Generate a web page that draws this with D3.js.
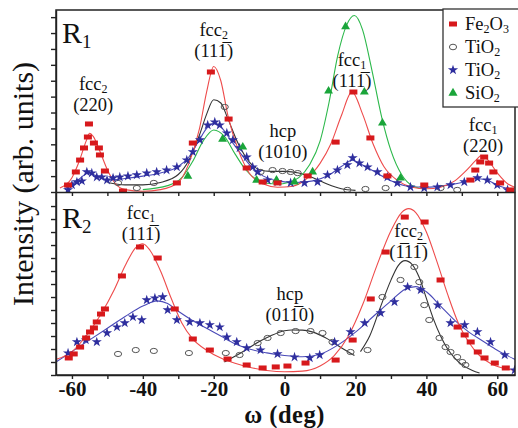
<!DOCTYPE html>
<meta charset="utf-8">
<style>
body { margin: 0; background: #fff; }
text { font-family: "Liberation Serif", "DejaVu Serif", serif; fill: #111; }
.axis path, .axis line { stroke: #222; stroke-width: 1.4px; }
.fit { fill: none; stroke-width: 1.1px; }
</style>
<body>
<script src="https://d3js.org/d3.v7.min.js"></script>
<script>
// omega in degrees, intensity in arbitrary units

// ---- panel R1 ----
var r1Fe2O3 = [[-61.1,0.44],[-58.9,1.26],[-57.7,2.01],[-56.6,2.77],[-55.5,3.46],[-55.2,4.28],[-53.8,3.08],[-52.4,2.77],[-52.1,2.33],[-50.7,1.32],[-45.6,0.06],[-30.4,0.57],[-25.9,3.08],[-20.8,7.55],[-15.8,4.59],[-10.7,1.51],[-6.2,0.63],[-2.0,0.57],[6.5,1.01],[14.4,3.14],[19.4,6.29],[24.2,3.40],[29.0,1.01],[39.4,0.44],[52.4,0.75],[53.8,1.38],[55.2,1.89],[56.3,2.20],[57.7,1.82],[58.9,1.26],[60.8,0.57],[63.7,0.13]];
var r1Fe2O3Fit = [[-63.4,0.25],[-60,0.9],[-58,1.9],[-56,3.2],[-55,3.7],[-54,3.5],[-52,2.5],[-50,1.4],[-48,0.6],[-45,0.15],[-40,0.05],[-35,0.15],[-30,0.6],[-27,1.8],[-24,4.0],[-22,6.3],[-20,7.9],[-18,7.0],[-16,4.8],[-13,2.6],[-10,1.2],[-6,0.5],[-2,0.3],[2,0.35],[6,0.8],[10,1.8],[13,3.0],[16,4.8],[19,6.3],[22,4.9],[25,3.0],[28,1.6],[32,0.7],[36,0.3],[40,0.2],[44,0.3],[48,0.7],[51,1.3],[54,2.0],[55.5,2.3],[57,2.1],[60,1.2],[63,0.5],[65,0.3]];

var r1TiO2a = [[-47.0,0.57],[-41.7,0.25],[-36.9,0.57],[-16.9,5.35],[-6.8,1.26],[-3.4,1.38],[-0.6,1.32],[1.7,1.26],[3.7,1.19],[17.7,0.13],[22.8,0.19],[28.5,0.25],[44.0,0.25],[48.7,0.13]];
var r1TiO2aFit = [[-50,0.6],[-45,0.45],[-40,0.45],[-35,0.6],[-30,1.1],[-27,2.0],[-24,3.6],[-22,4.9],[-20,5.8],[-18,5.6],[-16,4.6],[-13,3.0],[-10,1.9],[-7,1.4],[-4,1.3],[0,1.3],[4,1.2],[8,0.9],[12,0.5],[16,0.2],[20,0.1]];

var r1TiO2b = [[-61.1,0.13],[-60,0.44],[-58.6,0.63],[-57.2,0.69],[-55.8,1.26],[-54.4,1.19],[-53,0.94],[-51.6,0.94],[-50.1,0.75],[-48.4,0.88],[-46.5,0.94],[-44.2,1.0],[-41.7,1.07],[-38.9,1.19],[-36.1,1.26],[-33.3,1.38],[-30.4,1.57],[-27.6,2.01],[-25.9,2.52],[-23.9,3.27],[-21.7,4.21],[-19.7,4.40],[-18.3,4.21],[-16.3,3.71],[-14.6,3.27],[-12.7,2.77],[-10.7,2.20],[-9.0,1.57],[-7.6,1.26],[-4.8,0.75],[-2,0.63],[1.7,0.57],[5.6,0.57],[9.3,0.63],[12.1,1.07],[14.9,1.38],[17.7,1.70],[19.2,2.14],[21.1,1.82],[23.4,1.57],[26.2,1.26],[29.0,0.94],[31.8,0.57],[35.5,0.31],[39.4,0.25],[43.1,0.31],[46.8,0.44],[50.7,0.63],[54.4,0.88],[57.2,0.75],[60,0.44],[62.9,0.13]];
var r1TiO2bFit = [[-62,0.2],[-58,0.8],[-55.5,1.2],[-53,1.0],[-50,0.75],[-45,0.85],[-40,1.0],[-35,1.2],[-30,1.6],[-27,2.2],[-24,3.3],[-22,4.0],[-20,4.3],[-18,4.1],[-15,3.2],[-12,2.3],[-9,1.5],[-6,1.0],[-2,0.7],[3,0.6],[8,0.7],[12,1.0],[16,1.6],[19,2.0],[22,1.7],[26,1.2],[30,0.7],[35,0.35],[40,0.3],[45,0.4],[50,0.6],[54,0.85],[57,0.75],[61,0.35],[64.5,0.15]];

var r1SiO2 = [[-27.3,1.0],[-17.5,3.33],[-11.8,2.83],[-7.9,0.75],[-2.3,0.75],[2.8,0.63],[7.9,1.26],[12.4,6.35],[17.2,10.4],[22.5,6.29],[27.6,4.34],[32.7,0.88]];
var r1SiO2Fit = [[-40,0.15],[-33,0.4],[-29,0.9],[-26,1.9],[-23,3.2],[-20,3.9],[-17,3.5],[-14,2.4],[-11,1.4],[-8,0.8],[-5,0.55],[-2,0.5],[1,0.6],[4,0.9],[7,1.7],[10,3.2],[12.5,5.6],[15,8.6],[17.5,10.5],[19.7,11.1],[22,10.2],[24.5,7.8],[27.5,4.6],[30,2.6],[33,1.1],[36,0.4],[40,0.15]];

// ---- panel R2 ----
var r2Fe2O3 = [[-60.9,1.31],[-59.5,1.62],[-57.7,2.15],[-56.0,2.85],[-54.9,3.31],[-53.8,3.62],[-53.0,4.08],[-51.8,4.69],[-50.7,5.08],[-45.9,7.62],[-40.8,9.85],[-35.8,9.0],[-31.0,5.08],[-25.9,2.77],[-21.1,1.92],[-16.1,1.23],[-10.7,0.77],[-6.2,0.54],[-2.5,0.62],[0.8,0.69],[5.9,0.92],[14.4,1.15],[19.2,2.69],[24.3,5.85],[28.5,9.46],[33.9,12.15],[39.5,11.77],[44.0,7.31],[48.8,3.69],[50.8,3.08],[52.5,2.54],[54.5,1.77],[56.4,1.31],[59.3,0.92],[62.4,0.54]];
var r2Fe2O3Fit = [[-64.5,1.2],[-60,1.8],[-56,3.0],[-52,4.6],[-48,6.6],[-45,8.4],[-42,9.8],[-40,10.1],[-38,9.6],[-35,8.0],[-32,5.9],[-29,4.0],[-26,2.8],[-22,1.9],[-18,1.3],[-14,0.9],[-10,0.6],[-5,0.35],[0,0.25],[5,0.3],[10,0.7],[14,1.5],[18,3.0],[22,5.4],[26,8.4],[30,11.1],[33,12.5],[35,12.8],[37,12.5],[40,11.0],[43,8.7],[46,6.2],[49,4.0],[52,2.5],[55,1.5],[58,0.9],[62,0.5],[65,0.35]];

var r2TiO2a = [[-47.0,1.62],[-42.0,1.92],[-36.9,1.85],[-27.0,1.69],[-16.6,1.69],[-12.7,1.54],[-7.6,2.46],[-4.8,2.85],[-1.1,3.23],[3.1,3.38],[7.3,3.38],[10.7,3.23],[13.5,2.54],[18.6,1.77],[23.4,1.92],[27.6,6.0],[32.7,7.31],[36.6,8.31],[38.0,7.15],[39.4,5.38],[40.8,4.23],[43.7,2.85],[45.4,2.15],[46.8,1.77],[48.7,1.38],[50.1,1.0],[51.0,0.77]];
var r2TiO2aFitHcp = [[-17,1.0],[-13,1.6],[-10,2.1],[-7,2.6],[-4,3.0],[0,3.4],[2,3.46],[5,3.45],[8,3.3],[12,2.8],[16,2.1],[19.7,1.5]];
var r2TiO2aFitFcc = [[21.4,1.8],[24,3.0],[27,5.2],[30,7.3],[32,8.4],[34,8.8],[36,8.5],[38,7.5],[40,5.9],[42,4.3],[44,3.0],[46,2.0],[48,1.3],[50,0.8],[53,0.35],[55,0.15]];

var r2TiO2b = [[-61.1,1.69],[-58.6,2.54],[-56.1,2.69],[-53.0,2.54],[-50.1,3.23],[-47.3,3.69],[-45.1,4.0],[-42.8,4.46],[-40.3,4.23],[-38.9,5.77],[-36.6,5.92],[-34.4,6.0],[-33.0,5.0],[-30.4,4.23],[-26.8,4.08],[-23.9,4.0],[-21.1,3.85],[-18.3,3.69],[-16.3,2.92],[-13.5,2.54],[-10.7,2.08],[-6.8,1.92],[-2.0,1.62],[2.8,1.38],[7.1,1.31],[9.9,1.54],[14.1,2.54],[18.6,3.31],[22.6,4.0],[27.1,4.77],[31.0,5.62],[34.7,6.77],[38.4,6.54],[43.2,5.38],[46.8,4.0],[50.8,3.85],[54.4,3.31],[58.1,2.54],[62.1,1.54],[64.9,0.38]];
var r2TiO2bFit = [[-64.5,1.0],[-60,1.8],[-55,2.7],[-50,3.6],[-45,4.5],[-40,5.3],[-36,5.7],[-33,5.5],[-30,4.9],[-26,4.2],[-22,3.6],[-18,3.0],[-14,2.4],[-10,2.0],[-5,1.7],[0,1.5],[5,1.4],[10,1.6],[15,2.3],[20,3.3],[25,4.5],[30,5.7],[34,6.6],[37,6.8],[40,6.4],[44,5.3],[48,4.2],[52,3.3],[56,2.6],[60,1.9],[65,1.2]];

var xTicks = [-60,-50,-40,-30,-20,-10,0,10,20,30,40,50,60];
var xTickLabels = [-60,-40,-20,0,20,40,60];

// peak labels: omega, intensity of the baseline of the first line
var r1Labels = [
  {x: -54, y: 6.4, top: "fcc", sub: "2", hkl: "(220)"},
  {x: -20, y: 9.8, top: "fcc", sub: "2", hkl: "(11" + "1\u0305" + ")"},
  {x: -0.5, y: 3.45, top: "hcp", sub: "", hkl: "(1010)"},
  {x: 19, y: 7.9, top: "fcc", sub: "1", hkl: "(11" + "1\u0305" + ")"},
  {x: 56, y: 3.85, top: "fcc", sub: "1", hkl: "(220)"}
];
var r2Labels = [
  {x: -40.5, y: 12.0, top: "fcc", sub: "1", hkl: "(11" + "1\u0305" + ")"},
  {x: 1.5, y: 5.8, top: "hcp", sub: "", hkl: "(01" + "1\u0305" + "0)"},
  {x: 35, y: 10.6, top: "fcc", sub: "2", hkl: "(" + "1\u0305" + "1" + "1\u0305" + ")"}
];

var width = 518, height = 428;
var left = 56, right = 515, top1 = 10, mid = 192, bot = 375;

var svg = d3.select("body").append("svg")
    .attr("width", width)
    .attr("height", height);

var x = d3.scaleLinear().domain([-64.5, 65]).range([left, right]);
var y1 = d3.scaleLinear().domain([0, 11.45]).range([mid, top1]);
var y2 = d3.scaleLinear().domain([0, 14.08]).range([bot, mid]);

var red = "#d7191c", redLine = "#ee4b4b", blue = "#2e2e9e", blueLine = "#4a4ab8",
    green = "#1aa53a", greenLine = "#2bb84a", grey = "#555", greyLine = "#333";

function drawPanel(y, sets, clipId, y0, y1px) {
  svg.append("clipPath").attr("id", clipId).append("rect")
      .attr("x", left).attr("y", y1px).attr("width", right - left).attr("height", y0 - y1px);
  var g = svg.append("g").attr("clip-path", "url(#" + clipId + ")");
  var line = d3.line()
      .x(function(d) { return x(d[0]); })
      .y(function(d) { return y(d[1]); })
      .curve(d3.curveMonotoneX);

  sets.fits.forEach(function(f) {
    g.append("path").datum(f.data).attr("class", "fit")
        .attr("stroke", f.color).attr("d", line);
  });

  // open circles
  g.selectAll(".circ").data(sets.circles).enter().append("ellipse")
      .attr("cx", function(d) { return x(d[0]); })
      .attr("cy", function(d) { return y(d[1]); })
      .attr("rx", 3.6).attr("ry", 2.6)
      .attr("fill", "none").attr("stroke", grey).attr("stroke-width", 1);

  // stars
  var star = d3.symbol().type(d3.symbolStar).size(32);
  g.selectAll(".star").data(sets.stars).enter().append("path")
      .attr("d", star)
      .attr("transform", function(d) { return "translate(" + x(d[0]) + "," + y(d[1]) + ")"; })
      .attr("fill", blue);

  if (sets.tris) {
    var tri = d3.symbol().type(d3.symbolTriangle).size(34);
    g.selectAll(".tri").data(sets.tris).enter().append("path")
        .attr("d", tri)
        .attr("transform", function(d) { return "translate(" + x(d[0]) + "," + y(d[1]) + ")"; })
        .attr("fill", green);
  }

  // squares
  g.selectAll(".sq").data(sets.squares).enter().append("rect")
      .attr("x", function(d) { return x(d[0]) - 4; })
      .attr("y", function(d) { return y(d[1]) - 2.5; })
      .attr("width", 8).attr("height", 5)
      .attr("fill", red);
}

drawPanel(y1, {
  fits: [
    {data: r1TiO2aFit, color: greyLine},
    {data: r1TiO2bFit, color: blueLine},
    {data: r1SiO2Fit, color: greenLine},
    {data: r1Fe2O3Fit, color: redLine}
  ],
  circles: r1TiO2a, stars: r1TiO2b, tris: r1SiO2, squares: r1Fe2O3
}, "clip1", mid, top1);

drawPanel(y2, {
  fits: [
    {data: r2TiO2aFitHcp, color: greyLine},
    {data: r2TiO2aFitFcc, color: greyLine},
    {data: r2TiO2bFit, color: blueLine},
    {data: r2Fe2O3Fit, color: redLine}
  ],
  circles: r2TiO2a, stars: r2TiO2b, squares: r2Fe2O3
}, "clip2", bot, mid);

// axes
svg.append("g").attr("class", "axis")
    .attr("transform", "translate(0," + bot + ")")
    .call(d3.axisBottom(x).tickValues(xTicks).tickSize(4).tickSizeOuter(0)
      .tickFormat(function(d) { return xTickLabels.indexOf(d) >= 0 ? d : ""; }))
    .call(function(g) {
      g.selectAll("text").attr("dy", "0.66em")
        .style("font-size", "21px").style("font-weight", "bold")
        .style("font-family", "'Liberation Serif', serif").attr("fill", "#111");
    });

svg.append("g").attr("class", "axis")
    .attr("transform", "translate(0," + mid + ")")
    .call(d3.axisBottom(x).tickValues(xTicks).tickSize(4).tickSizeOuter(0).tickFormat(""));

svg.append("g").attr("class", "axis")
    .attr("transform", "translate(" + left + ",0)")
    .call(d3.axisLeft(y1).tickValues(d3.range(0, 12)).tickSize(5).tickSizeOuter(0).tickFormat(""));

svg.append("g").attr("class", "axis")
    .attr("transform", "translate(" + left + ",0)")
    .call(d3.axisLeft(y2).tickValues(d3.range(0, 14)).tickSize(5).tickSizeOuter(0).tickFormat(""));

// frame
svg.append("rect")
    .attr("x", left).attr("y", top1)
    .attr("width", right - left).attr("height", bot - top1)
    .attr("fill", "none").attr("stroke", "#222").attr("stroke-width", 1.5);

// panel names
function panelName(py, n) {
  var t = svg.append("text").attr("x", 62).attr("y", py)
      .style("font-size", "30px");
  t.append("tspan").text("R");
  t.append("tspan").attr("dy", 5).style("font-size", "19px").text(n);
}
panelName(43, "1");
panelName(228, "2");

// peak labels
function peakLabels(list, y) {
  list.forEach(function(l) {
    var t = svg.append("text")
        .attr("x", x(l.x)).attr("y", y(l.y))
        .attr("text-anchor", "middle").style("font-size", "18.5px");
    t.append("tspan").text(l.top);
    if (l.sub) t.append("tspan").attr("dy", 3).style("font-size", "12px").text(l.sub);
    svg.append("text")
        .attr("x", x(l.x)).attr("y", y(l.y) + 21)
        .attr("text-anchor", "middle").style("font-size", "18.5px")
        .text(l.hkl);
  });
}
peakLabels(r1Labels, y1);
peakLabels(r2Labels, y2);

// legend
var lg = svg.append("g");
lg.append("rect").attr("x", 443).attr("y", 9).attr("width", 80).attr("height", 98)
    .attr("fill", "#fff").attr("stroke", "#333").attr("stroke-width", 1.3);
var legendNames = [["Fe", "2", "O", "3"], ["TiO", "2"], ["TiO", "2"], ["SiO", "2"]];
legendNames.forEach(function(parts, i) {
  var cy = 24 + i * 23;
  var t = lg.append("text").attr("x", 465).attr("y", cy + 6).style("font-size", "18.5px");
  parts.forEach(function(p, j) {
    var s = t.append("tspan").text(p);
    if (j % 2 === 1) s.attr("dy", 3).style("font-size", "12px");
    else if (j > 0) s.attr("dy", -3);
  });
});
lg.append("rect").attr("x", 449).attr("y", 21.5).attr("width", 8).attr("height", 5).attr("fill", red);
lg.append("ellipse").attr("cx", 453).attr("cy", 47).attr("rx", 3.6).attr("ry", 2.8)
    .attr("fill", "none").attr("stroke", grey);
lg.append("path").attr("d", d3.symbol().type(d3.symbolStar).size(32))
    .attr("transform", "translate(453,70)").attr("fill", blue);
lg.append("path").attr("d", d3.symbol().type(d3.symbolTriangle).size(36))
    .attr("transform", "translate(453,93)").attr("fill", green);

// axis titles
svg.append("text")
    .attr("transform", "translate(33,184) rotate(-90)")
    .attr("text-anchor", "middle")
    .style("font-size", "30px")
    .text("Intensity (arb. units)");

svg.append("text")
    .attr("x", x(0)).attr("y", 423)
    .attr("text-anchor", "middle")
    .style("font-size", "24.5px").style("font-weight", "bold")
    .style("letter-spacing", "0.5px")
    .text("\u03c9 (deg)");
</script>
